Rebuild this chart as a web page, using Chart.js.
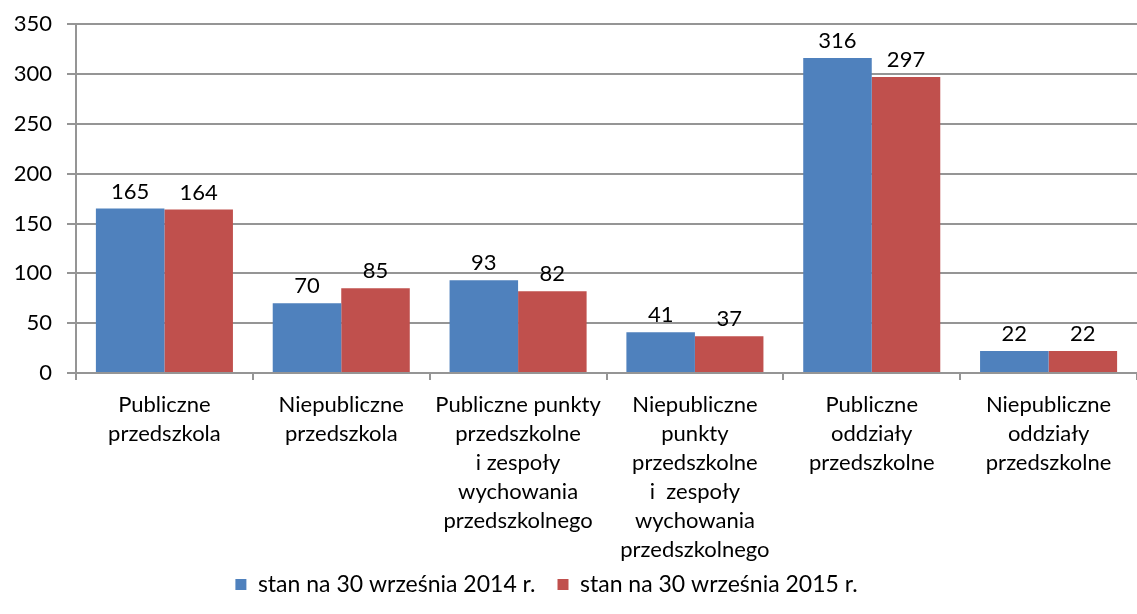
<!DOCTYPE html>
<html>
<head>
<meta charset="utf-8">
<script src="https://cdn.jsdelivr.net/npm/chart.js@4"></script>
<style>
  html, body { margin: 0; padding: 0; background: #fff; }
  #wrap { width: 1137px; height: 614px; }
</style>
</head>
<body>
<div id="wrap"><canvas id="chart" width="1137" height="614"></canvas></div>
<script>
const categories = [
    ['Publiczne', 'przedszkola'],
    ['Niepubliczne', 'przedszkola'],
    ['Publiczne punkty', 'przedszkolne', 'i zespoły', 'wychowania', 'przedszkolnego'],
    ['Niepubliczne', 'punkty', 'przedszkolne', 'i  zespoły', 'wychowania', 'przedszkolnego'],
    ['Publiczne', 'oddziały', 'przedszkolne'],
    ['Niepubliczne', 'oddziały', 'przedszkolne']
];
const seriesNames = ['stan na 30 września 2014 r.', 'stan na 30 września 2015 r.'];
const values2014 = [165, 70, 93, 41, 316, 22];
const values2015 = [164, 85, 82, 37, 297, 22];
const yTicks = [0, 50, 100, 150, 200, 250, 300, 350];

const FONT = 'Lato';
const gridColor = '#959595';

// value labels above each bar
const barLabels = {
    id: 'barLabels',
    afterDatasetsDraw(chart) {
        const ctx = chart.ctx;
        ctx.save();
        ctx.font = '22px ' + FONT;
        ctx.fillStyle = '#000';
        ctx.textAlign = 'center';
        ctx.textBaseline = 'bottom';
        chart.data.datasets.forEach((ds, i) => {
            chart.getDatasetMeta(i).data.forEach((bar, j) => {
                ctx.fillText(ds.data[j], bar.x, bar.y - 6);
            });
        });
        ctx.restore();
    }
};

// legend sits a bit left of centre and overlaps the label area's bottom
const moveLegend = {
    id: 'moveLegend',
    afterLayout(chart) {
        const lg = chart.legend;
        lg.left -= 22;
        lg.right -= 22;
        lg.top -= 28;
        lg.bottom -= 28;
    }
};

new Chart(document.getElementById('chart'), {
    type: 'bar',
    data: {
        labels: categories,
        datasets: [
            { label: seriesNames[0], data: values2014, backgroundColor: '#4F81BD' },
            { label: seriesNames[1], data: values2015, backgroundColor: '#C0504D' }
        ]
    },
    options: {
        responsive: false,
        animation: false,
        layout: { padding: { top: 0, right: 0, left: 0, bottom: -20 } },
        categoryPercentage: 0.775,
        barPercentage: 1.0,
        plugins: {
            legend: {
                position: 'bottom',
                labels: {
                    font: { family: FONT, size: 23 },
                    color: '#000',
                    boxWidth: 11,
                    boxHeight: 11,
                    padding: 22
                }
            },
            tooltip: { enabled: false }
        },
        scales: {
            x: {
                afterFit(scale) { scale.height = 206; },
                grid: {
                    offset: true,
                    drawOnChartArea: false,
                    drawTicks: true,
                    tickLength: 7,
                    color: gridColor,
                    lineWidth: 2
                },
                border: { color: gridColor, width: 2 },
                ticks: {
                    font: { family: FONT, size: 22, lineHeight: 1.32 },
                    color: '#000',
                    padding: 10,
                    maxRotation: 0,
                    autoSkip: false
                }
            },
            y: {
                min: 0,
                max: 350,
                afterFit(scale) { scale.width = 76; },
                afterBuildTicks(scale) { scale.ticks = yTicks.map(v => ({ value: v })); },
                grid: {
                    color: gridColor,
                    lineWidth: 2,
                    tickLength: 9
                },
                border: { color: gridColor, width: 2 },
                ticks: {
                    font: { family: FONT, size: 22, lineHeight: 0.84 },
                    color: '#000',
                    padding: 15
                }
            }
        }
    },
    plugins: [barLabels, moveLegend]
});
</script>
</body>
</html>
